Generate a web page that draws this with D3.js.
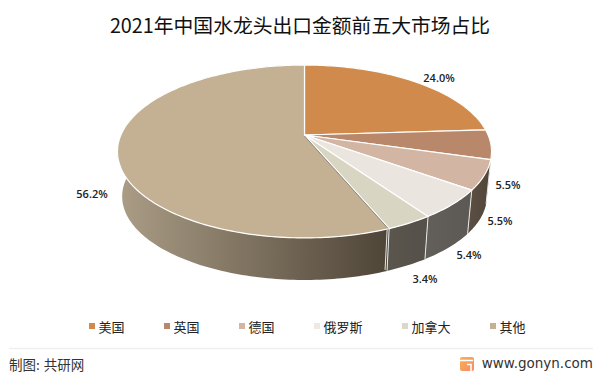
<!DOCTYPE html>
<html>
<head>
<meta charset="utf-8">
<script src="https://cdn.jsdelivr.net/npm/d3@7"></script>
<style>
  html, body { margin: 0; padding: 0; background: #fff; }
  text { font-family: "Noto Sans CJK SC", "Noto Sans", sans-serif; }
</style>
</head>
<body>
<div id="container"></div>
<script>
// data
const categories = ["美国", "英国", "德国", "俄罗斯", "加拿大", "其他"];
const shares = [24.0, 5.5, 5.5, 5.4, 3.4, 56.2];
const topColors = ["#d08b4c", "#b9876a", "#d3b5a3", "#ebe5e0", "#d9d5c3", "#c4b194"];
const legendColors = ["#d08b4c", "#b9876a", "#d3b5a3", "#efe9e3", "#dcd8c8", "#c4b194"];
const wallStart = ["#6a5240", "#5c4a3c", "#5a4d42", "#625e5a", "#5a564d", "#ab9d86"];
const wallEnd = ["#6a5240", "#5c4a3c", "#524639", "#5c5853", "#54504a", "#4e4437"];

// where things sit on the page
const legendX = [89, 164, 239, 314, 402, 490];
const labelAt = [[439, 77], [508, 184], [500, 220], [469, 254], [425, 278], [92, 193]];

const width = 600, height = 376;

const svg = d3.select("#container")
  .append("svg")
    .attr("width", width)
    .attr("height", height)
    .style("display", "block");

// the pie is tilted with some perspective, the apex is not the middle of the ellipse
const top3d = {x: 304.5, y: 135, a: 183.6, b: 83.3, k: 0.1907};
const bottom3d = {x: 304.5, y: 180.5, a: 179, b: 80.5, k: 0.1907};

function project(p, angle) {
  const u = Math.sin(angle), v = -Math.cos(angle);
  const w = 1 - p.k * v;
  return [p.x + p.a * u / w, p.y + p.b * v / w];
}

function rim(p, a0, a1) {
  const n = Math.max(2, Math.ceil((a1 - a0) / 0.02));
  return d3.range(n + 1).map(i => project(p, a0 + (a1 - a0) * i / n));
}

const pie = d3.pie().sort(null).value(d => d)(shares);
const line = d3.line();
const color = d3.scaleOrdinal().domain(categories).range(topColors);

// title
svg.append("text")
  .attr("x", 300).attr("y", 33)
  .attr("text-anchor", "middle")
  .style("font-size", "19.8px")
  .attr("fill", "#111")
  .text("2021年中国水龙头出口金额前五大市场占比");

// wall gradients
const defs = svg.append("defs");
pie.forEach((d, i) => {
  const pts = rim(top3d, d.startAngle, d.endAngle);
  const g = defs.append("linearGradient")
    .attr("id", "wall" + i)
    .attr("gradientUnits", "userSpaceOnUse")
    .attr("x1", d3.min(pts, q => q[0])).attr("y1", 0)
    .attr("x2", d3.max(pts, q => q[0])).attr("y2", 0);
  g.append("stop").attr("offset", 0).attr("stop-color", wallStart[i]);
  g.append("stop").attr("offset", 1).attr("stop-color", wallEnd[i]);
});

// side walls first
svg.append("g").selectAll("path")
  .data(pie)
  .join("path")
    .attr("d", d => line(rim(top3d, d.startAngle, d.endAngle)
      .concat(rim(bottom3d, d.startAngle, d.endAngle).reverse())) + "Z")
    .attr("fill", (d, i) => `url(#wall${i})`);

// white joints on the front of the wall
svg.append("g").selectAll("line")
  .data(pie.slice(2))
  .join("line")
    .attr("x1", d => project(top3d, d.startAngle)[0])
    .attr("y1", d => project(top3d, d.startAngle)[1])
    .attr("x2", d => project(bottom3d, d.startAngle)[0])
    .attr("y2", d => project(bottom3d, d.startAngle)[1])
    .attr("stroke", "#e8e8e6")
    .attr("stroke-width", 1);

// top faces
svg.append("g").selectAll("path")
  .data(pie)
  .join("path")
    .attr("d", d => line([[top3d.x, top3d.y]].concat(rim(top3d, d.startAngle, d.endAngle))) + "Z")
    .attr("fill", (d, i) => color(categories[i]))
    .attr("stroke", "#fff")
    .attr("stroke-width", 1.2)
    .attr("stroke-linejoin", "round");

// thin dark cut next to the big slice
const cut = pie[5];
const cutEnd = project(top3d, cut.startAngle);
svg.append("line")
  .attr("x1", top3d.x).attr("y1", top3d.y + 1)
  .attr("x2", cutEnd[0] - 1).attr("y2", cutEnd[1])
  .attr("stroke", "#77746c")
  .attr("stroke-width", 0.8);
svg.append("line")
  .attr("x1", cutEnd[0] - 2).attr("y1", cutEnd[1] + 1)
  .attr("x2", project(bottom3d, cut.startAngle)[0] - 2).attr("y2", project(bottom3d, cut.startAngle)[1] - 1)
  .attr("stroke", "#e8e8e6")
  .attr("stroke-width", 1);

// value labels
svg.append("g").selectAll("text")
  .data(shares)
  .join("text")
    .attr("x", (d, i) => labelAt[i][0])
    .attr("y", (d, i) => labelAt[i][1])
    .attr("text-anchor", "middle")
    .attr("dominant-baseline", "central")
    .style("font-family", "'Open Sans', sans-serif")
    .style("font-size", "11px")
    .style("font-weight", 600)
    .attr("fill", "#222")
    .text(d => d3.format(".1f")(d) + "%");

// legend
const legend = svg.append("g").selectAll("g")
  .data(categories)
  .join("g")
    .attr("transform", (d, i) => `translate(${legendX[i]},326)`);
legend.append("rect")
  .attr("x", 0).attr("y", -3)
  .attr("width", 6).attr("height", 6)
  .attr("fill", (d, i) => legendColors[i]);
legend.append("text")
  .attr("x", 9.5).attr("y", 0)
  .attr("dominant-baseline", "central")
  .style("font-size", "13px")
  .attr("fill", "#222")
  .text(d => d);

// footer
svg.append("line")
  .attr("x1", 9).attr("x2", 593)
  .attr("y1", 348.5).attr("y2", 348.5)
  .attr("stroke", "#eeeeee")
  .attr("stroke-width", 1.5);
svg.append("text")
  .attr("x", 9).attr("y", 370)
  .style("font-size", "13.5px")
  .style("word-spacing", "1px")
  .attr("fill", "#333")
  .text("制图: 共研网");
svg.append("text")
  .attr("x", 593).attr("y", 368)
  .attr("text-anchor", "end")
  .style("font-family", "'DejaVu Sans', sans-serif")
  .style("font-size", "13.5px")
  .attr("fill", "#333")
  .text("www.gonyn.com");

// logo
const logoGrad = defs.append("linearGradient").attr("id", "logo")
  .attr("x1", 0).attr("y1", 0).attr("x2", 1).attr("y2", 1);
logoGrad.append("stop").attr("offset", 0).attr("stop-color", "#f9b24e");
logoGrad.append("stop").attr("offset", 1).attr("stop-color", "#f58a6e");
svg.append("rect")
  .attr("x", 460).attr("y", 357)
  .attr("width", 14).attr("height", 14).attr("rx", 2)
  .attr("fill", "url(#logo)");
svg.append("path")
  .attr("d", "M460 360.5H473M467 364.5H471V371")
  .attr("fill", "none")
  .attr("stroke", "#fff")
  .attr("stroke-width", 1.5);
</script>
</body>
</html>
